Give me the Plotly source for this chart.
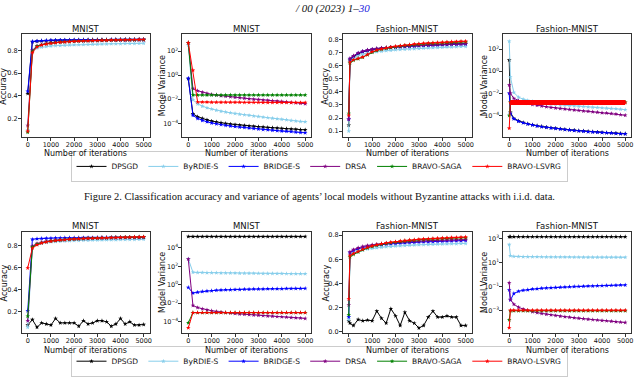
import plotly.graph_objects as go

W, H = 640, 377

methods = ["DPSGD", "ByRDIE-S", "BRIDGE-S", "DRSA", "BRAVO-SAGA", "BRAVO-LSVRG"]
colors = ["#000000", "#87CEEB", "#0000FF", "#800080", "#008000", "#FF0000"]

iters_mnist = [0, 200, 400, 600, 800, 1000, 1200, 1400, 1600, 1800, 2000, 2200, 2400,
               2600, 2800, 3000, 3200, 3400, 3600, 3800, 4000, 4200, 4400, 4600, 4800, 5000]
iters_fashion = [0, 50, 200, 400, 600, 800, 1000, 1200, 1400, 1600, 1800, 2000, 2200, 2400,
                 2600, 2800, 3000, 3200, 3400, 3600, 3800, 4000, 4200, 4400, 4600, 4800, 5000]

# ---------------- Row 1: no Byzantine attacks ----------------
acc_mnist_clean = {
    "DPSGD": [0.42, 0.875, 0.880, 0.883, 0.885, 0.887, 0.888, 0.889, 0.890, 0.890, 0.891, 0.891, 0.892,
              0.892, 0.893, 0.893, 0.893, 0.894, 0.894, 0.894, 0.895, 0.895, 0.895, 0.895, 0.896, 0.896],
    "ByRDIE-S": [0.10, 0.80, 0.820, 0.828, 0.834, 0.838, 0.841, 0.843, 0.845, 0.847, 0.849, 0.850, 0.851,
                 0.852, 0.853, 0.854, 0.855, 0.856, 0.857, 0.858, 0.858, 0.859, 0.860, 0.860, 0.861, 0.862],
    "BRIDGE-S": [0.44, 0.878, 0.882, 0.885, 0.887, 0.888, 0.889, 0.890, 0.891, 0.891, 0.892, 0.892, 0.893,
                 0.893, 0.893, 0.894, 0.894, 0.894, 0.895, 0.895, 0.895, 0.895, 0.896, 0.896, 0.896, 0.896],
    "DRSA": [0.14, 0.80, 0.840, 0.852, 0.860, 0.866, 0.870, 0.873, 0.876, 0.878, 0.880, 0.881, 0.882,
             0.883, 0.884, 0.885, 0.886, 0.887, 0.888, 0.888, 0.889, 0.889, 0.890, 0.890, 0.891, 0.891],
    "BRAVO-SAGA": [0.08, 0.79, 0.835, 0.850, 0.858, 0.864, 0.869, 0.873, 0.876, 0.878, 0.880, 0.882, 0.884,
                   0.885, 0.886, 0.887, 0.888, 0.889, 0.890, 0.891, 0.892, 0.892, 0.893, 0.893, 0.894, 0.894],
    "BRAVO-LSVRG": [0.09, 0.78, 0.830, 0.846, 0.855, 0.862, 0.867, 0.871, 0.874, 0.877, 0.879, 0.881, 0.883,
                    0.884, 0.886, 0.887, 0.888, 0.889, 0.890, 0.891, 0.892, 0.893, 0.893, 0.894, 0.895, 0.896],
}
var_mnist_clean = {
    "DPSGD": [0.5, 6e-4, 3.5e-4, 2.5e-4, 1.9e-4, 1.5e-4, 1.25e-4, 1.1e-4, 9.5e-5, 8.5e-5, 7.7e-5, 7.0e-5, 6.4e-5,
              5.9e-5, 5.5e-5, 5.1e-5, 4.8e-5, 4.5e-5, 4.2e-5, 4.0e-5, 3.7e-5, 3.5e-5, 3.3e-5, 3.1e-5, 2.9e-5, 2.8e-5],
    "ByRDIE-S": [300, 9e-3, 4e-3, 2.6e-3, 1.9e-3, 1.5e-3, 1.2e-3, 1.0e-3, 8.5e-4, 7.3e-4, 6.4e-4, 5.6e-4, 5.0e-4,
                 4.5e-4, 4.0e-4, 3.6e-4, 3.2e-4, 2.9e-4, 2.6e-4, 2.3e-4, 2.1e-4, 1.9e-4, 1.7e-4, 1.55e-4, 1.4e-4, 1.3e-4],
    "BRIDGE-S": [0.55, 4.5e-4, 2.5e-4, 1.7e-4, 1.3e-4, 1.05e-4, 8.8e-5, 7.6e-5, 6.6e-5, 5.8e-5, 5.2e-5, 4.7e-5, 4.3e-5,
                 3.9e-5, 3.6e-5, 3.3e-5, 3.0e-5, 2.8e-5, 2.6e-5, 2.4e-5, 2.2e-5, 2.1e-5, 2.0e-5, 1.8e-5, 1.7e-5, 1.6e-5],
    "DRSA": [500, 7.6e-2, 5.0e-2, 3.8e-2, 3.0e-2, 2.5e-2, 2.2e-2, 1.95e-2, 1.75e-2, 1.6e-2, 1.45e-2, 1.3e-2, 1.2e-2,
             1.1e-2, 1.0e-2, 9.3e-3, 8.6e-3, 8.0e-3, 7.4e-3, 6.9e-3, 6.4e-3, 5.9e-3, 5.4e-3, 5.0e-3, 4.6e-3, 4.2e-3],
    "BRAVO-SAGA": [500, 2.2e-2, 2.2e-2, 2.2e-2, 2.2e-2, 2.2e-2, 2.2e-2, 2.2e-2, 2.2e-2, 2.2e-2, 2.2e-2, 2.2e-2, 2.2e-2,
                   2.2e-2, 2.2e-2, 2.2e-2, 2.2e-2, 2.2e-2, 2.2e-2, 2.2e-2, 2.2e-2, 2.2e-2, 2.2e-2, 2.2e-2, 2.2e-2, 2.2e-2],
    "BRAVO-LSVRG": [500, 2.5, 5.8e-3, 5.7e-3, 5.7e-3, 5.6e-3, 5.6e-3, 5.6e-3, 5.5e-3, 5.5e-3, 5.5e-3, 5.5e-3, 5.4e-3,
                    5.4e-3, 5.4e-3, 5.4e-3, 5.3e-3, 5.3e-3, 5.3e-3, 5.3e-3, 5.3e-3, 5.2e-3, 5.2e-3, 5.2e-3, 5.2e-3, 5.2e-3],
}
acc_fashion_clean = {
    "DPSGD": [0.145, 0.64, 0.665, 0.69, 0.705, 0.715, 0.722, 0.728, 0.732, 0.736, 0.739, 0.742, 0.745, 0.747,
              0.749, 0.751, 0.753, 0.755, 0.757, 0.759, 0.761, 0.763, 0.764, 0.766, 0.767, 0.768, 0.769],
    "ByRDIE-S": [0.10, 0.63, 0.655, 0.675, 0.687, 0.695, 0.701, 0.706, 0.710, 0.714, 0.717, 0.720, 0.723, 0.725,
                 0.727, 0.729, 0.731, 0.733, 0.735, 0.737, 0.738, 0.740, 0.741, 0.742, 0.744, 0.745, 0.746],
    "BRIDGE-S": [0.19, 0.65, 0.672, 0.695, 0.708, 0.717, 0.723, 0.728, 0.732, 0.735, 0.738, 0.741, 0.744, 0.746,
                 0.748, 0.750, 0.752, 0.754, 0.755, 0.757, 0.758, 0.760, 0.761, 0.762, 0.763, 0.764, 0.765],
    "DRSA": [0.19, 0.655, 0.675, 0.697, 0.710, 0.719, 0.725, 0.730, 0.734, 0.737, 0.740, 0.743, 0.746, 0.748,
             0.750, 0.752, 0.754, 0.756, 0.757, 0.759, 0.760, 0.761, 0.762, 0.763, 0.764, 0.765, 0.766],
    "BRAVO-SAGA": [0.235, 0.62, 0.64, 0.652, 0.663, 0.683, 0.702, 0.715, 0.724, 0.732, 0.738, 0.744, 0.749, 0.753,
                   0.757, 0.760, 0.763, 0.766, 0.768, 0.770, 0.772, 0.774, 0.776, 0.777, 0.778, 0.780, 0.781],
    "BRAVO-LSVRG": [0.22, 0.625, 0.645, 0.655, 0.665, 0.685, 0.705, 0.718, 0.727, 0.735, 0.741, 0.747, 0.752, 0.756,
                    0.760, 0.764, 0.767, 0.770, 0.772, 0.774, 0.776, 0.778, 0.780, 0.782, 0.783, 0.785, 0.786],
}
var_fashion_clean = {
    "DPSGD": [10, 2e-4, 5.3e-5, 3.2e-5, 2.3e-5, 1.8e-5, 1.45e-5, 1.2e-5, 1.02e-5, 8.9e-6, 7.8e-6, 7.0e-6, 6.3e-6, 5.6e-6,
              5.1e-6, 4.7e-6, 4.3e-6, 4.0e-6, 3.7e-6, 3.4e-6, 3.2e-6, 3.0e-6, 2.85e-6, 2.7e-6, 2.55e-6, 2.4e-6, 2.3e-6],
    "ByRDIE-S": [500, 0.3, 1.2e-2, 4.5e-3, 3.0e-3, 2.3e-3, 1.9e-3, 1.6e-3, 1.4e-3, 1.25e-3, 1.12e-3, 1.02e-3, 9.3e-4, 8.6e-4,
                 8.0e-4, 7.4e-4, 6.9e-4, 6.4e-4, 6.0e-4, 5.6e-4, 5.2e-4, 4.9e-4, 4.6e-4, 4.3e-4, 4.0e-4, 3.7e-4, 3.4e-4],
    "BRIDGE-S": [1e-2, 1.5e-4, 5e-5, 3e-5, 2.2e-5, 1.7e-5, 1.4e-5, 1.15e-5, 9.8e-6, 8.5e-6, 7.5e-6, 6.7e-6, 6.0e-6, 5.4e-6,
                 4.9e-6, 4.5e-6, 4.1e-6, 3.8e-6, 3.5e-6, 3.3e-6, 3.1e-6, 2.9e-6, 2.75e-6, 2.6e-6, 2.45e-6, 2.3e-6, 2.2e-6],
    "DRSA": [0.056, 1e-2, 3.5e-3, 2.2e-3, 1.6e-3, 1.25e-3, 1.0e-3, 8.4e-4, 7.2e-4, 6.2e-4, 5.4e-4, 4.8e-4, 4.3e-4, 3.9e-4,
             3.5e-4, 3.2e-4, 2.9e-4, 2.6e-4, 2.4e-4, 2.2e-4, 2.0e-4, 1.8e-4, 1.65e-4, 1.5e-4, 1.35e-4, 1.2e-4, 1.05e-4],
    "BRAVO-SAGA": [1e-4, 1.6e-3, 1.6e-3, 1.6e-3, 1.6e-3, 1.6e-3, 1.6e-3, 1.6e-3, 1.6e-3, 1.6e-3, 1.6e-3, 1.6e-3, 1.6e-3, 1.6e-3,
                   1.6e-3, 1.6e-3, 1.6e-3, 1.6e-3, 1.6e-3, 1.6e-3, 1.6e-3, 1.6e-3, 1.6e-3, 1.6e-3, 1.6e-3, 1.6e-3, 1.6e-3],
    "BRAVO-LSVRG": [7e-6, 1.5e-3, 1.5e-3, 1.5e-3, 1.5e-3, 1.5e-3, 1.5e-3, 1.5e-3, 1.5e-3, 1.5e-3, 1.5e-3, 1.5e-3, 1.5e-3, 1.5e-3,
                    1.5e-3, 1.5e-3, 1.5e-3, 1.5e-3, 1.5e-3, 1.5e-3, 1.5e-3, 1.5e-3, 1.5e-3, 1.5e-3, 1.5e-3, 1.5e-3, 1.5e-3],
}

# ---------------- Row 2: with Byzantine attacks ----------------
acc_mnist_attack = {
    "DPSGD": [0.08, 0.13, 0.06, 0.10, 0.09, 0.08, 0.14, 0.10, 0.10, 0.10, 0.10, 0.07, 0.12,
              0.09, 0.10, 0.12, 0.12, 0.11, 0.07, 0.09, 0.14, 0.09, 0.11, 0.08, 0.08, 0.085],
    "ByRDIE-S": [0.06, 0.79, 0.815, 0.825, 0.832, 0.837, 0.840, 0.843, 0.845, 0.847, 0.849, 0.850, 0.851,
                 0.852, 0.853, 0.854, 0.855, 0.856, 0.856, 0.857, 0.858, 0.858, 0.859, 0.859, 0.860, 0.860],
    "BRIDGE-S": [0.21, 0.86, 0.865, 0.868, 0.870, 0.871, 0.872, 0.873, 0.874, 0.874, 0.875, 0.875, 0.876,
                 0.876, 0.876, 0.877, 0.877, 0.877, 0.878, 0.878, 0.878, 0.878, 0.879, 0.879, 0.879, 0.879],
    "DRSA": [0.12, 0.80, 0.822, 0.834, 0.842, 0.848, 0.852, 0.856, 0.859, 0.861, 0.863, 0.865, 0.867,
             0.868, 0.869, 0.871, 0.872, 0.873, 0.873, 0.874, 0.875, 0.876, 0.876, 0.877, 0.877, 0.878],
    "BRAVO-SAGA": [0.16, 0.79, 0.815, 0.829, 0.838, 0.845, 0.850, 0.854, 0.858, 0.861, 0.863, 0.866, 0.868,
                   0.869, 0.871, 0.872, 0.874, 0.875, 0.876, 0.877, 0.878, 0.879, 0.880, 0.880, 0.881, 0.882],
    "BRAVO-LSVRG": [0.60, 0.78, 0.810, 0.826, 0.836, 0.843, 0.849, 0.853, 0.857, 0.860, 0.863, 0.865, 0.867,
                    0.869, 0.871, 0.872, 0.874, 0.875, 0.876, 0.877, 0.878, 0.879, 0.880, 0.881, 0.882, 0.883],
}
var_mnist_attack = {
    "DPSGD": [1.7e5, 1.7e5, 1.7e5, 1.7e5, 1.7e5, 1.7e5, 1.7e5, 1.7e5, 1.7e5, 1.7e5, 1.7e5, 1.7e5, 1.7e5,
              1.7e5, 1.7e5, 1.7e5, 1.7e5, 1.7e5, 1.7e5, 1.7e5, 1.7e5, 1.7e5, 1.7e5, 1.7e5, 1.7e5, 1.7e5],
    "ByRDIE-S": [650, 22, 21, 20.5, 20, 19.6, 19.2, 18.8, 18.5, 18.2, 17.9, 17.6, 17.4,
                 17.2, 17.0, 16.8, 16.6, 16.4, 16.2, 16.0, 15.8, 15.6, 15.5, 15.3, 15.2, 15.0],
    "BRIDGE-S": [0.5, 0.12, 0.15, 0.18, 0.20, 0.22, 0.24, 0.26, 0.27, 0.28, 0.29, 0.30, 0.31,
                 0.32, 0.33, 0.33, 0.34, 0.35, 0.35, 0.36, 0.36, 0.37, 0.37, 0.38, 0.38, 0.39],
    "DRSA": [600, 5.4e-3, 3.2e-3, 2.3e-3, 1.8e-3, 1.45e-3, 1.2e-3, 1.02e-3, 9.0e-4, 8.0e-4, 7.2e-4, 6.5e-4, 5.9e-4,
             5.4e-4, 5.0e-4, 4.6e-4, 4.2e-4, 3.9e-4, 3.6e-4, 3.3e-4, 3.1e-4, 2.9e-4, 2.7e-4, 2.5e-4, 2.3e-4, 2.1e-4],
    "BRAVO-SAGA": [7e-5, 9e-4, 9e-4, 9e-4, 9e-4, 9e-4, 9e-4, 9e-4, 9e-4, 9e-4, 9e-4, 9e-4, 9e-4,
                   9e-4, 9e-4, 9e-4, 9e-4, 9e-4, 9e-4, 9e-4, 9e-4, 9e-4, 9e-4, 9e-4, 9e-4, 9e-4],
    "BRAVO-LSVRG": [2e-5, 9e-4, 9e-4, 9e-4, 9e-4, 9e-4, 9e-4, 9e-4, 9e-4, 9e-4, 9e-4, 9e-4, 9e-4,
                    9e-4, 9e-4, 9e-4, 9e-4, 9e-4, 9e-4, 9e-4, 9e-4, 9e-4, 9e-4, 9e-4, 9e-4, 9e-4],
}
acc_fashion_attack = {
    "DPSGD": [0.09, 0.07, 0.05, 0.10, 0.09, 0.095, 0.09, 0.17, 0.11, 0.07, 0.19, 0.13, 0.05, 0.16,
              0.09, 0.07, 0.03, 0.05, 0.12, 0.17, 0.12, 0.12, 0.13, 0.12, 0.12, 0.05, 0.05],
    "ByRDIE-S": [0.10, 0.64, 0.655, 0.668, 0.677, 0.684, 0.690, 0.695, 0.699, 0.703, 0.706, 0.709, 0.711, 0.713,
                 0.715, 0.717, 0.719, 0.721, 0.722, 0.724, 0.725, 0.726, 0.727, 0.728, 0.729, 0.730, 0.731],
    "BRIDGE-S": [0.12, 0.655, 0.672, 0.688, 0.698, 0.706, 0.712, 0.717, 0.721, 0.725, 0.728, 0.731, 0.734, 0.736,
                 0.738, 0.740, 0.742, 0.744, 0.745, 0.747, 0.748, 0.750, 0.751, 0.752, 0.753, 0.754, 0.755],
    "DRSA": [0.22, 0.66, 0.680, 0.695, 0.706, 0.714, 0.720, 0.725, 0.729, 0.733, 0.736, 0.739, 0.742, 0.744,
             0.746, 0.748, 0.750, 0.752, 0.754, 0.755, 0.757, 0.758, 0.759, 0.760, 0.761, 0.762, 0.763],
    "BRAVO-SAGA": [0.14, 0.62, 0.640, 0.660, 0.678, 0.694, 0.706, 0.716, 0.724, 0.731, 0.737, 0.742, 0.747, 0.751,
                   0.755, 0.758, 0.761, 0.764, 0.766, 0.768, 0.770, 0.772, 0.774, 0.775, 0.777, 0.778, 0.779],
    "BRAVO-LSVRG": [0.27, 0.63, 0.648, 0.665, 0.683, 0.698, 0.710, 0.720, 0.728, 0.735, 0.741, 0.746, 0.751, 0.755,
                    0.759, 0.762, 0.765, 0.768, 0.770, 0.772, 0.774, 0.776, 0.778, 0.780, 0.781, 0.783, 0.784],
}
var_fashion_attack = {
    "DPSGD": [1.35e3, 1.35e3, 1.35e3, 1.35e3, 1.35e3, 1.35e3, 1.35e3, 1.35e3, 1.35e3, 1.35e3, 1.35e3, 1.35e3, 1.35e3, 1.35e3,
              1.35e3, 1.35e3, 1.35e3, 1.35e3, 1.35e3, 1.35e3, 1.35e3, 1.35e3, 1.35e3, 1.35e3, 1.35e3, 1.35e3, 1.35e3],
    "ByRDIE-S": [300, 35, 31, 30, 29.5, 29, 28.8, 28.5, 28.3, 28.1, 27.9, 27.7, 27.5, 27.3,
                 27.2, 27.0, 26.9, 26.8, 26.7, 26.6, 26.5, 26.4, 26.3, 26.2, 26.1, 26.0, 26.0],
    "BRIDGE-S": [0.05, 7e-3, 0.025, 0.038, 0.046, 0.052, 0.058, 0.063, 0.068, 0.072, 0.076, 0.080, 0.084, 0.088,
                 0.091, 0.095, 0.098, 0.101, 0.104, 0.107, 0.110, 0.113, 0.116, 0.119, 0.122, 0.125, 0.128],
    "DRSA": [0.2, 8e-3, 3.2e-3, 1.8e-3, 1.25e-3, 9.5e-4, 7.6e-4, 6.3e-4, 5.4e-4, 4.7e-4, 4.1e-4, 3.6e-4, 3.2e-4, 2.9e-4,
             2.6e-4, 2.35e-4, 2.15e-4, 1.95e-4, 1.8e-4, 1.65e-4, 1.5e-4, 1.4e-4, 1.3e-4, 1.2e-4, 1.1e-4, 1.02e-4, 9.5e-5],
    "BRAVO-SAGA": [1.6e-4, 9e-4, 9e-4, 9e-4, 9e-4, 9e-4, 9e-4, 9e-4, 9e-4, 9e-4, 9e-4, 9e-4, 9e-4, 9e-4,
                   9e-4, 9e-4, 9e-4, 9e-4, 9e-4, 9e-4, 9e-4, 9e-4, 9e-4, 9e-4, 9e-4, 9e-4, 9e-4],
    "BRAVO-LSVRG": [3.5e-5, 1e-3, 1e-3, 1e-3, 1e-3, 1e-3, 1e-3, 1e-3, 1e-3, 1e-3, 1e-3, 1e-3, 1e-3, 1e-3,
                    1e-3, 1e-3, 1e-3, 1e-3, 1e-3, 1e-3, 1e-3, 1e-3, 1e-3, 1e-3, 1e-3, 1e-3, 1e-3],
}

x_ticks = [0, 1000, 2000, 3000, 4000, 5000]


def sup(p):
    return "10<sup>" + ("\u2212" + str(-p) if p < 0 else str(p)) + "</sup>"


# panel definitions: (row, col, x, data, log, yrange, tick values, title, ytitle)
panels = [
    (0, 0, iters_mnist, acc_mnist_clean, False, [0.039, 0.941], [0.2, 0.4, 0.6, 0.8], "MNIST", "Accuracy"),
    (0, 1, iters_mnist, var_mnist_clean, True, [-5.15, 3.4], [-4, -2, 0, 2], "MNIST", "Model Variance"),
    (0, 2, iters_fashion, acc_fashion_clean, False, [0.055, 0.839], [0.1, 0.2, 0.3, 0.4, 0.5, 0.6, 0.7, 0.8], "Fashion-MNIST", "Accuracy"),
    (0, 3, iters_fashion, var_fashion_clean, True, [-5.94, 3.33], [-4, -2, 0, 2], "Fashion-MNIST", "Model Variance"),
    (1, 0, iters_mnist, acc_mnist_attack, False, [0.01, 0.927], [0.2, 0.4, 0.6, 0.8], "MNIST", "Accuracy"),
    (1, 1, iters_mnist, var_mnist_attack, True, [-5.24, 5.73], [-4, -2, 0, 2, 4], "MNIST", "Model Variance"),
    (1, 2, iters_fashion, acc_fashion_attack, False, [-0.01, 0.826], [0.0, 0.2, 0.4, 0.6, 0.8], "Fashion-MNIST", "Accuracy"),
    (1, 3, iters_fashion, var_fashion_attack, True, [-4.88, 3.53], [-3, -1, 1, 3], "Fashion-MNIST", "Model Variance"),
]

xdom_px = [(22, 150), (183, 312), (344, 473), (505, 633)]
ydom_px = [(34, 139), (236, 339)]
ytitle_px = [4, 163, 327, 486]
title_px_y = [29, 230]
xtitle_px_y = [156, 357]

FONT = "DejaVu Sans"

fig = go.Figure()
layout = {}
annotations = []

for i, (row, col, xs, data, is_log, yr, tv, title, ytitle) in enumerate(panels):
    n = i + 1
    xa = "x" if n == 1 else f"x{n}"
    ya = "y" if n == 1 else f"y{n}"
    xkey = "xaxis" if n == 1 else f"xaxis{n}"
    ykey = "yaxis" if n == 1 else f"yaxis{n}"
    x0, x1 = xdom_px[col]
    y0, y1 = ydom_px[row]
    axis_common = dict(showline=True, linecolor="#333333", linewidth=1, mirror=True,
                       ticks="outside", ticklen=3, tickwidth=1, tickcolor="#333333",
                       showgrid=False, zeroline=False,
                       tickfont=dict(family=FONT, size=6.5, color="#111111"))
    layout[xkey] = dict(domain=[x0 / W, x1 / W], anchor=ya, range=[-250, 5250],
                        tickmode="array", tickvals=x_ticks, ticktext=[str(v) for v in x_ticks],
                        ticklabelstandoff=-2, **axis_common)
    if is_log:
        layout[ykey] = dict(domain=[1 - y1 / H, 1 - y0 / H], anchor=xa, type="log", range=yr,
                            tickmode="array", tickvals=[10.0 ** p for p in tv],
                            ticktext=[sup(p) for p in tv], ticklabelstandoff=-1, **axis_common)
    else:
        layout[ykey] = dict(domain=[1 - y1 / H, 1 - y0 / H], anchor=xa, range=yr,
                            tickmode="array", tickvals=tv, ticktext=[f"{v:.1f}" for v in tv],
                            ticklabelstandoff=-1, **axis_common)
    legend_name = "legend" if row == 0 else "legend2"
    for m, c in zip(methods, colors):
        fig.add_trace(go.Scatter(
            x=xs, y=data[m], mode="lines+markers", name=m,
            line=dict(color=c, width=1),
            marker=dict(symbol="star", size=3.5, color=c),
            xaxis=xa, yaxis=ya, legend=legend_name,
            showlegend=(col == 0),
        ))
        if row == 0 and col == 3 and m == "BRAVO-LSVRG":
            # dense oscillating series appears as a thick band
            fig.add_trace(go.Scatter(
                x=xs[1:], y=data[m][1:], mode="lines", name=m,
                line=dict(color=c, width=5), xaxis=xa, yaxis=ya,
                showlegend=False, hoverinfo="skip",
            ))
    cx = (x0 + x1) / 2 / W
    annotations.append(dict(text=title, x=cx, y=1 - title_px_y[row] / H, xref="paper", yref="paper",
                            showarrow=False, xanchor="center", yanchor="middle",
                            font=dict(family=FONT, size=8.5, color="#111111")))
    annotations.append(dict(text="Number of iterations", x=cx, y=1 - xtitle_px_y[row] / H,
                            xref="paper", yref="paper", showarrow=False, xanchor="center",
                            yanchor="middle", font=dict(family=FONT, size=8, color="#111111")))
    annotations.append(dict(text=ytitle, x=ytitle_px[col] / W, y=1 - (y0 + y1) / 2 / H,
                            xref="paper", yref="paper", showarrow=False, textangle=-90,
                            xanchor="center", yanchor="middle",
                            font=dict(family=FONT, size=8, color="#111111")))

annotations.append(dict(
    text="Figure 2. Classification accuracy and variance of agents\u2019 local models without Byzantine attacks with i.i.d. data.",
    x=0.5, y=1 - 200 / H, xref="paper", yref="paper", showarrow=False, xanchor="center", yanchor="middle",
    font=dict(family="Liberation Serif", size=10.5, color="#111111")))
annotations.append(dict(
    text="<i>/ 00 (2023) 1\u2013<span style='color:#2222dd'>30</span></i>",
    x=334 / W, y=1 - 8 / H, xref="paper", yref="paper", showarrow=False, xanchor="center", yanchor="middle",
    font=dict(family="Liberation Serif", size=11, color="#111111")))

legend_common = dict(orientation="h", xanchor="center", yanchor="middle",
                     font=dict(family=FONT, size=7.5, color="#111111"),
                     bordercolor="#cccccc", borderwidth=1, bgcolor="white",
                     itemwidth=30, tracegroupgap=0, traceorder="normal")

fig.update_layout(
    width=W, height=H, margin=dict(l=0, r=0, t=0, b=0),
    paper_bgcolor="white", plot_bgcolor="white",
    showlegend=True,
    legend=dict(x=0.5, y=1 - 169 / H, **legend_common),
    legend2=dict(x=0.5, y=1 - 368 / H, **legend_common),
    annotations=annotations,
    **layout,
)

fig.write_html("out.html", config={"displayModeBar": False},
               post_script="document.body.style.margin='0px';")
